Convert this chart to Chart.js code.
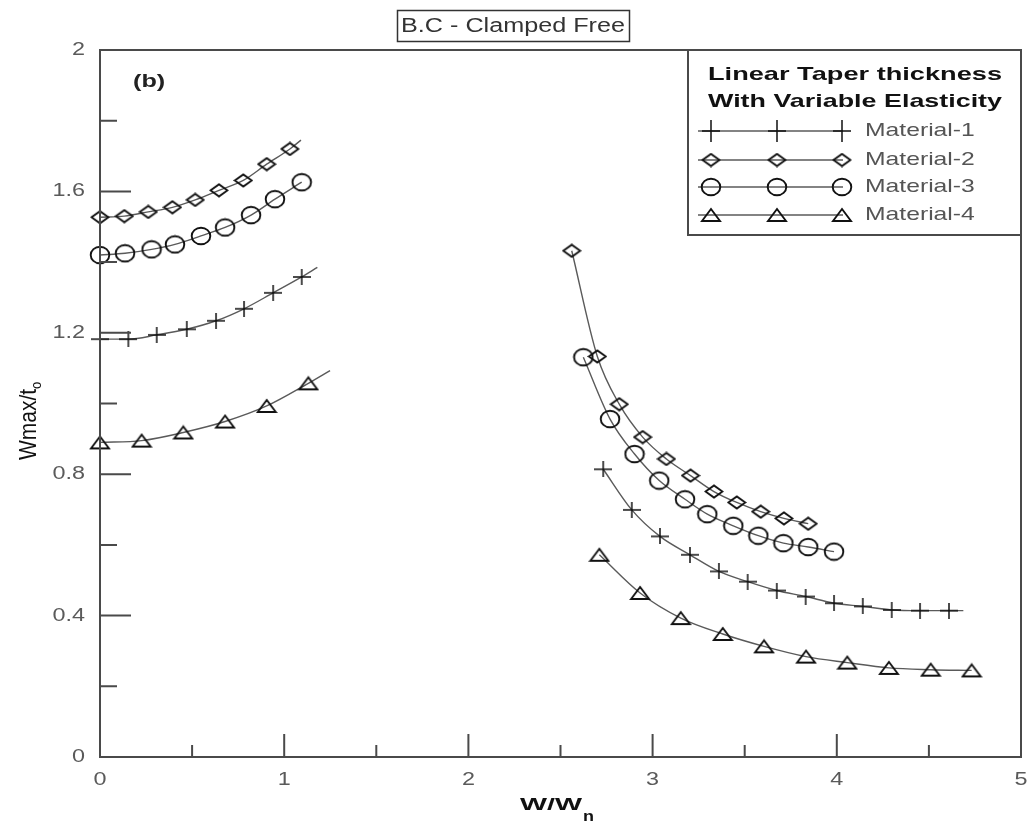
<!DOCTYPE html>
<html>
<head>
<meta charset="utf-8">
<script src="https://cdn.jsdelivr.net/npm/chart.js@4/dist/chart.umd.min.js"></script>
<style>
  html, body { margin: 0; padding: 0; background: #fff; }
  #wrap { width: 1032px; height: 825px; }
</style>
</head>
<body>
<div id="wrap"><canvas id="chart" width="1032" height="825"></canvas></div>
<script>
// branch below resonance (W/Wn < 1.3); last point of some curves has no marker
const m1LeftX = [0, 0.154, 0.308, 0.471, 0.630, 0.782, 0.940, 1.095, 1.180];
const m1LeftY = [1.182, 1.182, 1.194, 1.210, 1.234, 1.268, 1.313, 1.358, 1.385];
const m2LeftX = [0, 0.132, 0.262, 0.393, 0.517, 0.646, 0.778, 0.905, 1.031, 1.091];
const m2LeftY = [1.527, 1.530, 1.542, 1.555, 1.576, 1.603, 1.631, 1.677, 1.720, 1.745];
const m3LeftX = [0, 0.136, 0.280, 0.407, 0.548, 0.679, 0.820, 0.950, 1.095];
const m3LeftY = [1.420, 1.425, 1.436, 1.450, 1.474, 1.498, 1.533, 1.578, 1.626];
const m4LeftX = [0, 0.226, 0.452, 0.679, 0.905, 1.131, 1.249];
const m4LeftY = [0.890, 0.895, 0.918, 0.949, 0.993, 1.057, 1.093];

// branch above resonance (W/Wn > 2.5)
const m1RightX = [2.732, 2.887, 3.040, 3.203, 3.360, 3.516, 3.674, 3.831, 3.985, 4.141, 4.298, 4.452, 4.609, 4.687];
const m1RightY = [0.814, 0.699, 0.624, 0.572, 0.525, 0.496, 0.471, 0.454, 0.435, 0.426, 0.416, 0.414, 0.414, 0.414];
const m2RightX = [2.561, 2.700, 2.819, 2.946, 3.075, 3.206, 3.333, 3.457, 3.587, 3.713, 3.845];
const m2RightY = [1.432, 1.133, 0.998, 0.905, 0.843, 0.796, 0.751, 0.720, 0.694, 0.675, 0.660];
const m3RightX = [2.624, 2.769, 2.902, 3.036, 3.176, 3.297, 3.438, 3.574, 3.710, 3.845, 3.985];
const m3RightY = [1.131, 0.956, 0.857, 0.782, 0.729, 0.687, 0.654, 0.626, 0.605, 0.594, 0.581];
const m4RightX = [2.711, 2.932, 3.153, 3.381, 3.605, 3.833, 4.057, 4.283, 4.510, 4.732];
const m4RightY = [0.572, 0.464, 0.393, 0.348, 0.313, 0.284, 0.267, 0.252, 0.247, 0.245];

const materials = ['Material-1', 'Material-2', 'Material-3', 'Material-4'];
const legendTitle = ['Linear Taper thickness', 'With Variable Elasticity'];
const chartTitle = 'B.C - Clamped Free';
const panelTag = '(b)';

const xMajor = [0, 1, 2, 3, 4, 5];
const xLabels = ['0', '1', '2', '3', '4', '5'];
const xMinor = [0.5, 1.5, 2.5, 3.5, 4.5];
const yMajor = [0, 0.4, 0.8, 1.2, 1.6, 2];
const yLabels = ['0', '0.4', '0.8', '1.2', '1.6', '2'];
const yMinor = [0.2, 0.6, 1.0, 1.4, 1.8];

const X_STRETCH = 1.3;
const INK = '#111';
const AXIS = '#4a4a4a';

function makeMarker(kind, tall) {
  const c = document.createElement('canvas');
  const size = { plus: [18, tall ? 22 : 16], diamond: [20, 15], circle: [22, 20], triangle: [22, 16] }[kind];
  c.width = size[0];
  c.height = size[1];
  const g = c.getContext('2d');
  g.strokeStyle = INK;
  g.lineWidth = kind === 'plus' ? 1.5 : 1.9;
  g.beginPath();
  if (kind === 'plus') {
    const h = size[1];
    g.moveTo(0, h / 2); g.lineTo(18, h / 2);
    g.moveTo(9, 0); g.lineTo(9, h);
  } else if (kind === 'diamond') {
    g.moveTo(1.5, 7.5); g.lineTo(10, 1.5); g.lineTo(18.5, 7.5); g.lineTo(10, 13.5); g.closePath();
  } else if (kind === 'circle') {
    g.ellipse(11, 10, 9.3, 8.3, 0, 0, Math.PI * 2);
  } else {
    g.moveTo(2, 14); g.lineTo(11, 2); g.lineTo(20, 14); g.closePath();
  }
  g.stroke();
  return c;
}

const markers = [makeMarker('plus'), makeMarker('diamond'), makeMarker('circle'), makeMarker('triangle')];
const legendMarkers = [makeMarker('plus', true), markers[1], markers[2], markers[3]];

function curve(xs, ys, mat, tail) {
  return {
    label: materials[mat],
    data: xs.map((x, i) => ({ x, y: ys[i] })),
    showLine: true,
    borderColor: '#5a5a5a',
    borderWidth: 1.4,
    cubicInterpolationMode: 'monotone',
    pointStyle: markers[mat],
    pointRadius: ys.map((_, i) => (tail && i === ys.length - 1) ? 0 : 6),
    clip: false,
  };
}

function txt(ctx, s, x, y, o) {
  ctx.save();
  ctx.font = o.font;
  ctx.fillStyle = o.color || '#555';
  ctx.textAlign = o.align || 'left';
  ctx.textBaseline = o.baseline || 'middle';
  let sx = o.sx || X_STRETCH;
  if (o.width) sx = o.width / ctx.measureText(s).width;
  ctx.translate(x, y);
  ctx.scale(sx, 1);
  if (o.rotate) ctx.rotate(o.rotate);
  ctx.fillText(s, 0, 0);
  ctx.restore();
}

const decor = {
  id: 'decor',
  afterDraw(chart) {
    const ctx = chart.ctx;
    const a = chart.chartArea;
    const sx = chart.scales.x, sy = chart.scales.y;
    ctx.save();
    ctx.strokeStyle = AXIS;
    ctx.lineWidth = 2;
    ctx.strokeRect(a.left, a.top, a.right - a.left, a.bottom - a.top);

    // inward ticks
    ctx.beginPath();
    xMajor.forEach(v => { const p = sx.getPixelForValue(v); ctx.moveTo(p, a.bottom); ctx.lineTo(p, a.bottom - 23); });
    xMinor.forEach(v => { const p = sx.getPixelForValue(v); ctx.moveTo(p, a.bottom); ctx.lineTo(p, a.bottom - 12); });
    yMajor.forEach(v => { const p = sy.getPixelForValue(v); ctx.moveTo(a.left, p); ctx.lineTo(a.left + 31, p); });
    yMinor.forEach(v => { const p = sy.getPixelForValue(v); ctx.moveTo(a.left, p); ctx.lineTo(a.left + 17, p); });
    ctx.stroke();

    const tickFont = '18px "Liberation Sans", Arial, sans-serif';
    xMajor.forEach((v, i) => txt(ctx, xLabels[i], sx.getPixelForValue(v), a.bottom + 23, { font: tickFont, align: 'center', color: '#5a5a5a' }));
    yMajor.forEach((v, i) => txt(ctx, yLabels[i], a.left - 15, sy.getPixelForValue(v), { font: tickFont, align: 'right', color: '#5a5a5a' }));

    // axis titles
    txt(ctx, 'W/W', 520, 810, { font: 'bold 17px "Liberation Sans", Arial, sans-serif', color: INK, width: 62, baseline: 'alphabetic' });
    txt(ctx, 'n', 583, 821, { font: 'bold 15px "Liberation Sans", Arial, sans-serif', color: INK, baseline: 'alphabetic', sx: 1.2 });
    txt(ctx, 'Wmax/t', 36, 460, { font: '21px "Liberation Sans", Arial, sans-serif', color: INK, baseline: 'alphabetic', rotate: -Math.PI / 2, sx: 1.15 });
    txt(ctx, 'o', 41, 389, { font: '13px "Liberation Sans", Arial, sans-serif', color: INK, baseline: 'alphabetic', rotate: -Math.PI / 2, sx: 1.15 });

    // title box
    ctx.strokeStyle = '#333';
    ctx.lineWidth = 1.5;
    ctx.strokeRect(397.5, 10.5, 232, 31);
    txt(ctx, chartTitle, 513, 26.5, { font: '20px "Liberation Sans", Arial, sans-serif', color: '#333', align: 'center', width: 224 });

    txt(ctx, panelTag, 133, 82, { font: 'bold 18px "Liberation Sans", Arial, sans-serif', color: '#222', sx: 1.4 });

    // legend box
    ctx.strokeStyle = AXIS;
    ctx.lineWidth = 2;
    ctx.fillStyle = '#fff';
    ctx.fillRect(688, a.top, a.right - 688, 185);
    ctx.strokeRect(688, a.top, a.right - 688, 185);
    txt(ctx, legendTitle[0], 855, 75, { font: 'bold 19px "Liberation Sans", Arial, sans-serif', color: INK, align: 'center', width: 294 });
    txt(ctx, legendTitle[1], 855, 102, { font: 'bold 19px "Liberation Sans", Arial, sans-serif', color: INK, align: 'center', width: 294 });
    const rows = [131, 160, 187, 215];
    materials.forEach((m, i) => {
      const y = rows[i];
      const mk = legendMarkers[i];
      ctx.strokeStyle = '#5a5a5a';
      ctx.lineWidth = 1.4;
      ctx.beginPath();
      ctx.moveTo(698, y); ctx.lineTo(843, y);
      ctx.stroke();
      [711, 777, 842].forEach(x => ctx.drawImage(mk, x - mk.width / 2, y - mk.height / 2));
      txt(ctx, m, 865, y, { font: '19px "Liberation Sans", Arial, sans-serif', color: '#555' });
    });
    ctx.restore();
  }
};

new Chart(document.getElementById('chart'), {
  type: 'scatter',
  data: {
    datasets: [
      curve(m1LeftX, m1LeftY, 0, true),
      curve(m2LeftX, m2LeftY, 1, true),
      curve(m3LeftX, m3LeftY, 2, false),
      curve(m4LeftX, m4LeftY, 3, true),
      curve(m1RightX, m1RightY, 0, true),
      curve(m2RightX, m2RightY, 1, false),
      curve(m3RightX, m3RightY, 2, false),
      curve(m4RightX, m4RightY, 3, false),
    ],
  },
  options: {
    responsive: false,
    animation: false,
    events: [],
    layout: { padding: { top: 50, right: 11, left: 0, bottom: 0 } },
    plugins: { legend: { display: false }, tooltip: { enabled: false } },
    scales: {
      x: {
        type: 'linear', min: 0, max: 5,
        ticks: { display: false, stepSize: 0.5 },
        grid: { display: false },
        border: { display: false },
        afterFit: s => { s.height = 68; },
      },
      y: {
        min: 0, max: 2,
        ticks: { display: false, stepSize: 0.2 },
        grid: { display: false },
        border: { display: false },
        afterFit: s => { s.width = 100; },
      },
    },
  },
  plugins: [decor],
});
</script>
</body>
</html>
